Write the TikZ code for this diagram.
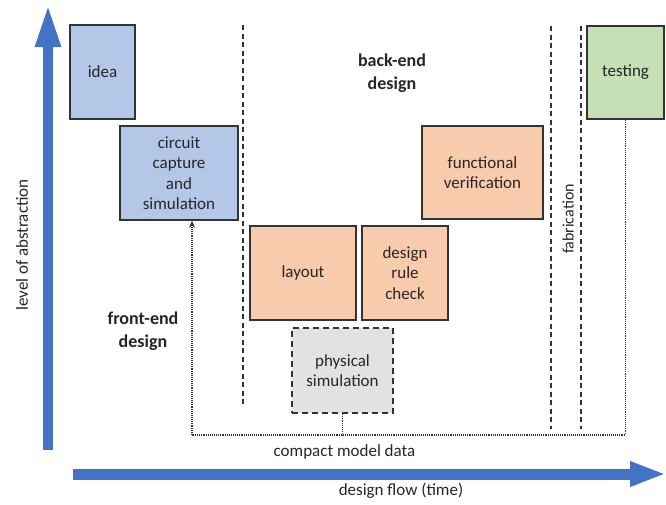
\documentclass[tikz,border=0pt]{standalone}
\usepackage{fontspec}
\setmainfont{Carlito}
\usetikzlibrary{arrows.meta}
\definecolor{bluefill}{HTML}{B4C7E7}
\definecolor{orangefill}{HTML}{F8CBAD}
\definecolor{greenfill}{HTML}{C5E0B4}
\definecolor{grayfill}{HTML}{E2E2E2}
\definecolor{boxline}{HTML}{333333}
\definecolor{arrowblue}{HTML}{4472C4}
\definecolor{txt}{HTML}{262626}
\tikzset{
  stagebox/.style={draw=boxline, line width=1.6pt, align=center, inner sep=0pt, text=txt,
    font=\fontsize{17}{20.5}\selectfont},
  sepline/.style={draw=boxline, line width=1.6pt, dash pattern=on 5pt off 3.5pt},
  dotline/.style={draw=boxline, line width=1.3pt, dash pattern=on 1pt off 0.9pt},
  bigarrowv/.style={draw=arrowblue, line width=10.5pt, -{Triangle[length=44pt,width=23pt]}},
  bigarrowh/.style={draw=arrowblue, line width=11pt, -{Triangle[length=36pt,width=23pt]}},
  lbl/.style={text=txt, font=\fontsize{17}{20.5}\selectfont, align=center, inner sep=0pt},
  boldlbl/.style={text=txt, font=\bfseries\fontsize{18}{22.5}\selectfont, align=center, inner sep=0pt}
}
\begin{document}
\begin{tikzpicture}[x=1pt,y=-1pt]
\useasboundingbox[fill=white] (0,0) rectangle (666,504);

% axes
\coordinate (vb) at (48,450);
\coordinate (vt) at (48,3);
\coordinate (hl) at (73,474);
\coordinate (hr) at (666,474);
\draw[bigarrowv] (vb) -- (vt);
\draw[bigarrowh] (hl) -- (hr);

% separators
\coordinate (d1t) at (243,25);  \coordinate (d1b) at (243,407);
\coordinate (d2t) at (551,26);  \coordinate (d2b) at (551,429);
\coordinate (d3t) at (581,26);  \coordinate (d3b) at (581,429);
\draw[sepline] (d1t) -- (d1b);
\draw[sepline] (d2t) -- (d2b);
\draw[sepline] (d3t) -- (d3b);

% boxes
\node[stagebox, fill=bluefill, minimum width=65pt, minimum height=94pt] (idea) at (102.5,72) {idea};
\node[stagebox, fill=bluefill, minimum width=118pt, minimum height=94pt] (circ) at (179,173) {circuit\\capture\\and\\simulation};
\node[stagebox, fill=orangefill, minimum width=106pt, minimum height=94pt] (layout) at (303,273) {layout};
\node[stagebox, fill=orangefill, minimum width=86pt, minimum height=94pt] (drc) at (405,273) {design\\rule\\check};
\node[stagebox, fill=orangefill, minimum width=121pt, minimum height=93pt] (func) at (482.5,172.5) {functional\\verification};
\node[stagebox, fill=grayfill, dash pattern=on 6pt off 4pt, minimum width=101pt, minimum height=85pt] (phys) at (342.5,370.5) {physical\\simulation};
\node[stagebox, fill=greenfill, minimum width=77pt, minimum height=93pt] (test) at (625.5,72.5) {testing};

% compact model data feedback
\coordinate (cm) at (192,435);
\draw[dotline] (test.south) |- (cm);
\draw[dotline, -{Stealth[length=7pt,width=6pt]}] (cm) -- (cm |- circ.south);
\draw[dotline] (phys.south) -- (phys.south |- cm);

% labels
\node[lbl, rotate=90] (loa) at (22,245) {level of abstraction};
\node[lbl, font=\fontsize{16}{19}\selectfont, rotate=90] (fab) at (568,219) {fabrication};
\node[boldlbl] (fe) at (143,331) {front-end\\design};
\node[boldlbl] (be) at (392,73) {back-end\\design};
\node[lbl] (cmd) at (344.5,452) {compact model data};
\node[lbl] (dft) at (401,491) {design flow (time)};
\end{tikzpicture}
\end{document}
